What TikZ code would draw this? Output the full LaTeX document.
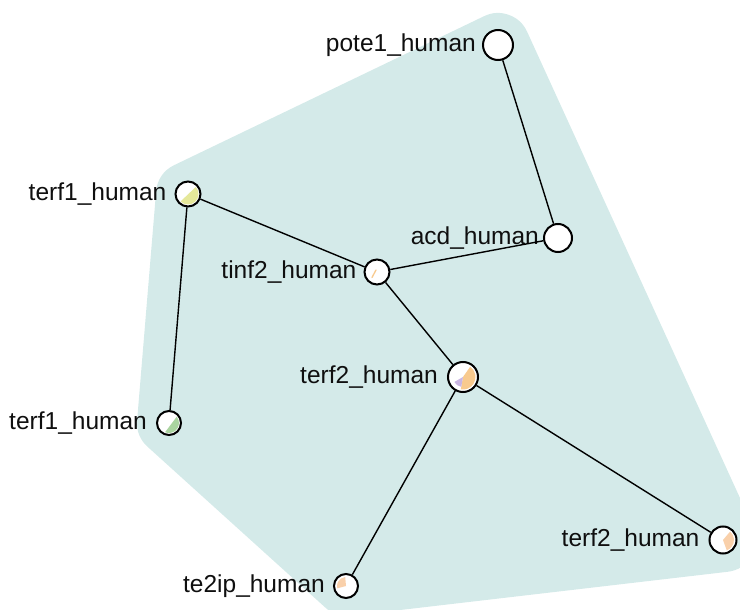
\documentclass[tikz,border=0pt]{standalone}
\usepackage{fontspec}
\setmainfont{Liberation Sans}
\definecolor{hullc}{RGB}{212,234,233}
\definecolor{txtc}{RGB}{15,15,15}
\definecolor{yel}{RGB}{229,232,154}
\definecolor{grn}{RGB}{170,212,160}
\definecolor{org}{RGB}{248,202,142}
\definecolor{pur}{RGB}{202,182,226}
\definecolor{pch}{RGB}{249,208,170}
\newcommand{\pieseg}[5]{\fill[#5] ([shift={(#2:#4)}]#1.center) arc[start angle=#2, end angle=#3, radius=#4] -- cycle;}
\newcommand{\piewedge}[5]{\fill[#5] (#1.center) -- ([shift={(#2:#4)}]#1.center) arc[start angle=#2, end angle=#3, radius=#4] -- cycle;}
\begin{document}
\begin{tikzpicture}[x=1pt,y=1pt,
  gnode/.style={circle,draw=black,line width=2pt,fill=white,inner sep=0pt,minimum size=#1},
  gnode/.default=24pt,
  lab/.style={font=\fontsize{24.5}{29}\selectfont,text=txtc,inner sep=0pt},
  edge/.style={draw=black,line width=1.4pt}]
\useasboundingbox (0,0) rectangle (740,-610);
\begin{scope}
\clip (0,0) rectangle (740,-610);
\filldraw[hullc,line width=64pt,line join=round]
  (498,-45) -- (724,-540) -- (347,-584) -- (169,-423) -- (188,-194) -- cycle;
\end{scope}
\node[gnode=30pt,label={[lab,label distance=6pt]left:pote1\_human}] (pote) at (498,-45) {};
\node[gnode=28pt,label={[lab,label distance=4pt]left:acd\_human}] (acd) at (558,-238) {};
\node[gnode=25pt,label={[lab,label distance=8pt]left:terf1\_human}] (t1a) at (188,-194) {};
\node[gnode=25pt,label={[lab,label distance=7pt]left:tinf2\_human}] (tinf) at (377,-272) {};
\node[gnode=30pt,label={[lab,label distance=9pt]left:terf2\_human}] (t2a) at (463,-377) {};
\node[gnode=24pt,label={[lab,label distance=9pt]left:terf1\_human}] (t1b) at (169,-423) {};
\node[gnode=27pt,label={[lab,label distance=9pt]left:terf2\_human}] (t2b) at (723,-540) {};
\node[gnode=24pt,label={[lab,label distance=8pt]left:te2ip\_human}] (te2) at (346,-586) {};
\draw[edge] (pote) -- (acd);
\draw[edge] (t1a) -- (tinf);
\draw[edge] (tinf) -- (acd);
\draw[edge] (t1a) -- (t1b);
\draw[edge] (tinf) -- (t2a);
\draw[edge] (t2a) -- (te2);
\draw[edge] (t2a) -- (t2b);
\pieseg{t1a}{42}{-135}{10.5pt}{yel}
\pieseg{t1b}{39}{-113}{10pt}{grn}
\piewedge{t2a}{55}{-100}{12.5pt}{org}
\piewedge{t2a}{-100}{-150}{10pt}{pur}
\piewedge{t2b}{50}{-70}{11pt}{pch}
\piewedge{te2}{95}{195}{9pt}{pch}
\draw[org,line width=1.3pt,line cap=round] ([shift={(-5,-5.5)}]tinf.center) -- ([shift={(-1,2)}]tinf.center);
\end{tikzpicture}
\end{document}
